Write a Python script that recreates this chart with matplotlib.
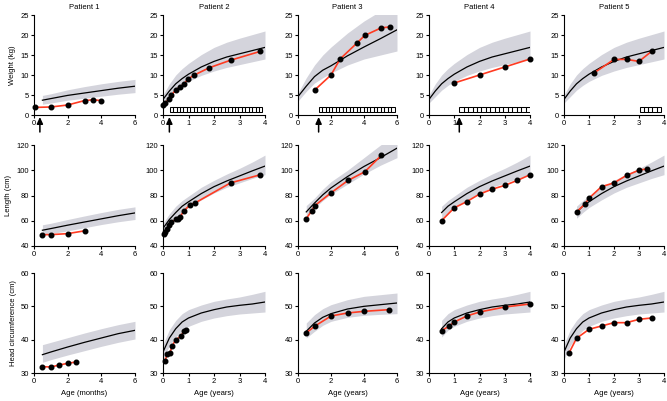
import matplotlib
matplotlib.use("Agg")
import matplotlib.pyplot as plt
from matplotlib.patches import Rectangle

plt.rcParams['font.family'] = ['Liberation Sans', 'DejaVu Sans']
plt.rcParams['font.size'] = 5.5

# ---------------- patient measurements ----------------
# weight (kg); patient 1 in months, others in years
w1_x = [0.05, 1.0, 2.0, 3.0, 3.5, 4.0]
w1_y = [1.9, 2.0, 2.5, 3.6, 3.8, 3.6]
w2_x = [0.0, 0.07, 0.23, 0.33, 0.5, 0.66, 0.82, 0.98, 1.23, 1.81, 2.65, 3.81]
w2_y = [2.5, 2.9, 4.0, 5.0, 6.2, 7.1, 7.7, 9.0, 10.0, 11.8, 13.7, 15.9]
w3_x = [1.0, 2.0, 2.55, 3.55, 4.05, 5.05, 5.55]
w3_y = [6.2, 10.0, 14.0, 17.9, 19.9, 21.8, 22.0]
w4_x = [1.0, 2.0, 3.0, 4.0]
w4_y = [8.0, 10.0, 12.0, 14.0]
w5_x = [1.2, 2.0, 2.5, 3.0, 3.5]
w5_y = [10.5, 13.9, 13.9, 13.4, 15.9]

# length (cm)
l1_x = [0.5, 1.0, 2.0, 3.0]
l1_y = [49.0, 49.0, 49.8, 52.0]
l2_x = [0.03, 0.08, 0.16, 0.25, 0.33, 0.5, 0.58, 0.66, 0.82, 1.07, 1.24, 2.65, 3.81]
l2_y = [49.8, 51.1, 53.8, 56.4, 58.8, 61.0, 61.7, 62.8, 67.8, 72.8, 73.9, 90.0, 96.4]
l3_x = [0.5, 0.83, 1.0, 2.0, 3.03, 4.05, 5.05]
l3_y = [61.7, 67.8, 71.8, 82.1, 91.9, 98.8, 111.8]
l4_x = [0.5, 1.0, 1.5, 2.0, 2.5, 3.0, 3.5, 4.0]
l4_y = [60.1, 70.2, 75.2, 81.1, 85.0, 88.0, 92.0, 96.4]
l5_x = [0.5, 0.83, 1.0, 1.5, 2.0, 2.5, 3.0, 3.3]
l5_y = [67.0, 73.0, 77.9, 87.0, 90.0, 95.9, 100.1, 101.0]

# head circumference (cm)
h1_x = [0.5, 1.0, 1.5, 2.0, 2.5]
h1_y = [31.9, 31.8, 32.4, 32.9, 33.3]
h2_x = [0.07, 0.17, 0.27, 0.35, 0.5, 0.7, 0.81, 0.9]
h2_y = [33.6, 35.6, 36.0, 38.0, 40.0, 41.0, 42.5, 43.0]
h3_x = [0.5, 1.0, 2.0, 3.0, 4.0, 5.5]
h3_y = [42.0, 44.0, 47.1, 48.0, 48.5, 49.0]
h4_x = [0.5, 0.8, 1.0, 1.5, 2.0, 3.0, 4.0]
h4_y = [42.7, 44.1, 45.3, 47.1, 48.3, 49.8, 50.7]
h5_x = [0.2, 0.5, 1.0, 1.5, 2.0, 2.5, 3.0, 3.5]
h5_y = [36.0, 40.4, 43.1, 44.1, 45.1, 45.1, 46.1, 46.5]

# ---------------- reference curves (median, lower, upper) ----------------
ref_m6 = [0.5, 1, 2, 3, 4, 5, 6]                      # months, patient 1
rw1_med = [3.7, 4.1, 4.9, 5.5, 6.1, 6.7, 7.2]
rw1_lo = [2.7, 3.0, 3.7, 4.2, 4.7, 5.2, 5.6]
rw1_hi = [4.9, 5.3, 6.3, 7.1, 7.8, 8.4, 8.9]
rl1_med = [52.5, 53.8, 56.5, 59.0, 61.5, 64.0, 66.2]
rl1_lo = [48.5, 49.8, 52.0, 54.5, 57.0, 59.2, 61.0]
rl1_hi = [56.8, 58.0, 61.0, 63.8, 66.5, 69.0, 71.0]
rh1_med = [35.5, 36.3, 37.8, 39.2, 40.5, 41.8, 42.8]
rh1_lo = [33.2, 34.0, 35.4, 36.7, 38.0, 39.2, 40.2]
rh1_hi = [38.5, 39.2, 40.6, 42.0, 43.3, 44.5, 45.5]

ref_y4 = [0, 0.25, 0.5, 0.75, 1, 1.5, 2, 2.5, 3, 3.5, 4]   # years
rw4_med = [3.9, 6.0, 7.8, 9.1, 10.2, 12.0, 13.4, 14.5, 15.3, 16.1, 16.9]
rw4_lo = [3.0, 4.6, 6.2, 7.4, 8.4, 9.9, 11.0, 11.9, 12.6, 13.3, 14.0]
rw4_hi = [5.0, 7.8, 10.0, 11.6, 12.9, 15.1, 16.9, 18.2, 19.2, 20.1, 21.0]
rl4_med = [54.0, 61.0, 66.5, 71.5, 75.0, 81.5, 87.0, 91.5, 95.5, 99.5, 103.3]
rl4_lo = [50.0, 56.5, 62.0, 66.5, 70.5, 76.5, 82.0, 86.5, 90.0, 93.5, 96.5]
rl4_hi = [58.0, 65.5, 71.5, 76.0, 79.5, 86.5, 92.0, 97.0, 101.5, 106.5, 112.0]
rh4_med = [36.3, 40.5, 43.3, 45.3, 46.5, 48.0, 49.0, 49.8, 50.3, 50.7, 51.3]
rh4_lo = [34.0, 38.2, 40.8, 42.8, 44.0, 45.5, 46.5, 47.2, 47.7, 48.0, 48.3]
rh4_hi = [38.6, 43.0, 45.8, 47.8, 49.0, 50.4, 51.5, 52.2, 52.8, 53.6, 54.5]

ref_y6 = [0, 0.5, 1, 1.5, 2, 3, 4, 5, 6]              # years, patient 3
rw6_med = [4.6, 7.2, 9.6, 11.2, 12.3, 14.8, 17.0, 19.1, 21.3]
rw6_lo = [3.5, 5.9, 8.0, 9.3, 10.5, 12.5, 14.0, 15.0, 16.0]
rw6_hi = [5.5, 9.3, 12.5, 15.0, 17.0, 20.5, 23.5, 26.0, 28.0]
rl6_x = [0.5, 1, 1.5, 2, 3, 4, 5, 6]
rl6_med = [67.0, 74.0, 80.5, 86.0, 95.0, 103.0, 110.0, 117.5]
rl6_lo = [64.0, 70.0, 76.0, 81.0, 89.0, 97.0, 104.0, 110.0]
rl6_hi = [72.0, 78.0, 85.0, 91.0, 100.0, 110.0, 120.0, 128.0]
rh6_x = [0.5, 1, 1.5, 2, 3, 4, 5, 6]
rh6_med = [42.5, 45.0, 46.7, 47.8, 49.2, 50.0, 50.5, 51.0]
rh6_lo = [40.5, 42.5, 44.3, 45.5, 46.7, 47.3, 47.6, 47.8]
rh6_hi = [45.0, 47.5, 49.3, 50.5, 52.0, 53.0, 53.5, 54.0]

# treatment start arrows and treatment course boxes (x values)
arrow_x = [0.35, 0.25, 1.25, 1.2, None]
course = [None, (0.26, 3.9, 27), (1.25, 5.86, 22), (1.2, 4.0, 16), (3.04, 3.87, 5)]

titles = ['Patient 1', 'Patient 2', 'Patient 3', 'Patient 4', 'Patient 5']

# ---------------- layout ----------------
W, H = 667, 401
fig = plt.figure(figsize=(W / 100, H / 100), dpi=100)
col_left = [34, 163, 298, 429, 564]
col_w = [101, 102, 99, 101, 100]
row_top = [15, 145, 273]
row_h = [100, 101, 100]

band_col = '#d4d4dc'
red = '#ff3b22'

weights = [(w1_x, w1_y), (w2_x, w2_y), (w3_x, w3_y), (w4_x, w4_y), (w5_x, w5_y)]
lengths = [(l1_x, l1_y), (l2_x, l2_y), (l3_x, l3_y), (l4_x, l4_y), (l5_x, l5_y)]
heads = [(h1_x, h1_y), (h2_x, h2_y), (h3_x, h3_y), (h4_x, h4_y), (h5_x, h5_y)]

ref_w = [(ref_m6, rw1_med, rw1_lo, rw1_hi)] + [(ref_y4, rw4_med, rw4_lo, rw4_hi)] \
    + [(ref_y6, rw6_med, rw6_lo, rw6_hi)] + [(ref_y4, rw4_med, rw4_lo, rw4_hi)] * 2
ref_l = [(ref_m6, rl1_med, rl1_lo, rl1_hi)] + [(ref_y4, rl4_med, rl4_lo, rl4_hi)] \
    + [(rl6_x, rl6_med, rl6_lo, rl6_hi)] + [(ref_y4[2:], rl4_med[2:], rl4_lo[2:], rl4_hi[2:])] * 2
ref_h = [(ref_m6, rh1_med, rh1_lo, rh1_hi)] + [(ref_y4, rh4_med, rh4_lo, rh4_hi)] \
    + [(rh6_x, rh6_med, rh6_lo, rh6_hi)] + [(ref_y4[2:], rh4_med[2:], rh4_lo[2:], rh4_hi[2:])] \
    + [(ref_y4, rh4_med, rh4_lo, rh4_hi)]

rows = [
    (weights, ref_w, (0, 25), [0, 5, 10, 15, 20, 25], 'Weight (kg)'),
    (lengths, ref_l, (40, 120), [40, 60, 80, 100, 120], 'Length (cm)'),
    (heads, ref_h, (30, 60), [30, 40, 50, 60], 'Head circumference (cm)'),
]

for r, (data, refs, ylim, yticks, ylabel) in enumerate(rows):
    for c in range(5):
        ax = fig.add_axes([col_left[c] / W, 1 - (row_top[r] + row_h[r]) / H,
                           col_w[c] / W, row_h[r] / H])
        xmax = 6 if c in (0, 2) else 4
        rx, rmed, rlo, rhi = refs[c]
        ax.fill_between(rx, rlo, rhi, color=band_col, lw=0)
        ax.plot(rx, rmed, color='black', lw=0.9)
        px, py = data[c]
        ax.plot(px, py, color=red, lw=1.2, marker='o', ms=3.3,
                mfc='black', mec='black', clip_on=False, zorder=5)
        ax.set_xlim(0, xmax)
        ax.set_ylim(*ylim)
        ax.set_yticks(yticks)
        ax.set_xticks(range(0, xmax + 1, 2 if xmax == 6 else 1))
        for s in ['top', 'right']:
            ax.spines[s].set_visible(False)
        for s in ['left', 'bottom']:
            ax.spines[s].set_linewidth(0.8)
        ax.tick_params(length=2, width=0.8, pad=1.5, labelsize=5.5)
        if c == 0:
            ax.set_ylabel(ylabel, fontsize=5.5, labelpad=3)
        if r == 0:
            ax.set_title(titles[c], fontsize=5.5, pad=4)
            if arrow_x[c] is not None:
                ax.annotate('', xy=(arrow_x[c], -0.02), xytext=(arrow_x[c], -0.17),
                            xycoords=('data', 'axes fraction'),
                            arrowprops=dict(arrowstyle='-|>,head_width=0.3,head_length=0.65',
                                            mutation_scale=6, color='black', lw=1.1,
                                            shrinkA=0, shrinkB=0),
                            annotation_clip=False)
            if course[c] is not None:
                x0, x1, n = course[c]
                bw = (x1 - x0) / n
                for i in range(n):
                    ax.add_patch(Rectangle((x0 + i * bw, 0.7), bw, 1.2,
                                           fill=False, ec='black', lw=0.75))
        if r == 2:
            ax.set_xlabel('Age (months)' if c == 0 else 'Age (years)',
                          fontsize=5.5, labelpad=4)

fig.savefig('out.png', dpi=100)
